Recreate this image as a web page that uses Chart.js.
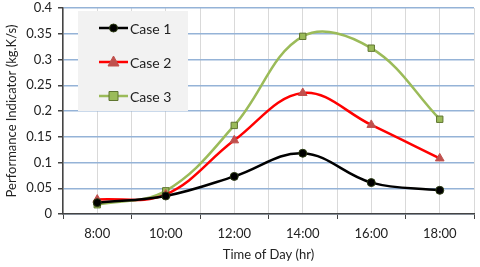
<!DOCTYPE html>
<html>
<head>
<script src="https://cdn.jsdelivr.net/npm/chart.js"></script>
<style>
  html, body { margin: 0; padding: 0; background: #fff; }
  #wrap { width: 480px; height: 267px; position: relative; }
</style>
</head>
<body>
<div id="wrap"><canvas id="perfChart" width="480" height="267"></canvas></div>
<script>
// data
var categories = ['8:00', '10:00', '12:00', '14:00', '16:00', '18:00'];
var case1 = [0.022, 0.035, 0.073, 0.118, 0.061, 0.046];
var case2 = [0.028, 0.038, 0.143, 0.235, 0.173, 0.108];
var case3 = [0.018, 0.045, 0.172, 0.345, 0.322, 0.184];
var seriesNames = ['Case 1', 'Case 2', 'Case 3'];

var FONT = 'Lato, "Open Sans", sans-serif';
var hours = categories.map(function (c) { return parseInt(c, 10); });

function pts(vals) {
    return vals.map(function (v, i) { return { x: hours[i], y: v }; });
}

var styles = [
    { line: '#000000', fill: '#000000', border: '#2b3a12', shape: 'circle', r: 4 },
    { line: '#ff0000', fill: '#c0504d', border: '#c0504d', shape: 'triangle', r: 5 },
    { line: '#9bbb59', fill: '#9bbb59', border: '#5f7530', shape: 'rect', r: 4.5 }
];

function marker(ctx, s, x, y) {
    ctx.save();
    ctx.fillStyle = s.fill;
    ctx.strokeStyle = s.border;
    ctx.lineWidth = 1;
    ctx.beginPath();
    if (s.shape == 'circle') {
        ctx.arc(x, y, s.r, 0, Math.PI * 2);
    } else if (s.shape == 'triangle') {
        ctx.moveTo(x, y - s.r - 1);
        ctx.lineTo(x + s.r + 0.5, y + s.r - 1);
        ctx.lineTo(x - s.r - 0.5, y + s.r - 1);
        ctx.closePath();
    } else {
        ctx.rect(x - s.r, y - s.r, s.r * 2, s.r * 2);
    }
    ctx.fill();
    ctx.stroke();
    ctx.restore();
}

// legend box sits inside the plot, drawn by hand
var legendBox = {
    id: 'legendBox',
    afterDatasetsDraw: function (chart) {
        var ctx = chart.ctx;
        ctx.save();
        ctx.fillStyle = '#f2f2f2';
        ctx.fillRect(78, 11, 110, 100);
        var rows = [28, 62, 96];
        for (var i = 0; i < 3; i++) {
            var s = styles[i];
            ctx.strokeStyle = s.line;
            ctx.lineWidth = 2.5;
            ctx.beginPath();
            ctx.moveTo(99, rows[i]);
            ctx.lineTo(128, rows[i]);
            ctx.stroke();
            marker(ctx, s, 113.5, rows[i]);
            ctx.fillStyle = '#222';
            ctx.font = '14px ' + FONT;
            ctx.textBaseline = 'middle';
            ctx.fillText(seriesNames[i], 130, rows[i] + 1);
        }
        ctx.restore();
    }
};

var datasets = [case1, case2, case3].map(function (vals, i) {
    var s = styles[i];
    return {
        label: seriesNames[i],
        data: pts(vals),
        borderColor: s.line,
        borderWidth: 2.5,
        tension: 0.38,
        pointStyle: s.shape,
        pointRadius: s.r,
        pointBackgroundColor: s.fill,
        pointBorderColor: s.border,
        pointBorderWidth: 1,
        fill: false
    };
});

new Chart(document.getElementById('perfChart'), {
    type: 'line',
    data: { datasets: datasets },
    plugins: [legendBox],
    options: {
        responsive: false,
        animation: false,
        layout: { padding: { top: 8, right: 3, left: 0, bottom: 0 } },
        plugins: { legend: { display: false }, tooltip: { enabled: false } },
        scales: {
            x: {
                type: 'linear',
                min: 7, max: 19,
                afterFit: function (a) { a.height = 53; a.paddingRight = 0; },
                ticks: {
                    stepSize: 1, autoSkip: false, maxRotation: 0,
                    color: '#222', font: { family: FONT, size: 13 }, padding: 7,
                    callback: function (v) { return v % 2 == 0 ? v + ':00' : ''; }
                },
                grid: {
                    color: '#d9d9d9',
                    tickLength: 5,
                    tickColor: function (c) { return c.tick && c.tick.value % 2 == 1 ? '#444' : 'rgba(0,0,0,0)'; }
                },
                border: { color: '#444', width: 1.5 },
                title: {
                    display: true, text: 'Time of Day (hr)', color: '#222',
                    font: { family: FONT, size: 13 }, padding: { top: 0 }
                }
            },
            y: {
                min: 0, max: 0.4,
                afterFit: function (a) { a.width = 63; a.paddingTop = 0; a.paddingBottom = 0; },
                ticks: {
                    stepSize: 0.05, color: '#222', font: { family: FONT, size: 13 }, padding: 6,
                    callback: function (v) { return Math.round(v * 100) / 100; }
                },
                grid: { color: '#95b3d7', lineWidth: 1.5, tickLength: 5, tickColor: '#444' },
                border: { color: '#444', width: 1.5 },
                title: {
                    display: true, text: 'Performance Indicator (kg.K/s)', color: '#222',
                    font: { family: FONT, size: 13 }, padding: { bottom: 1 }
                }
            }
        }
    }
});
</script>
</body>
</html>
